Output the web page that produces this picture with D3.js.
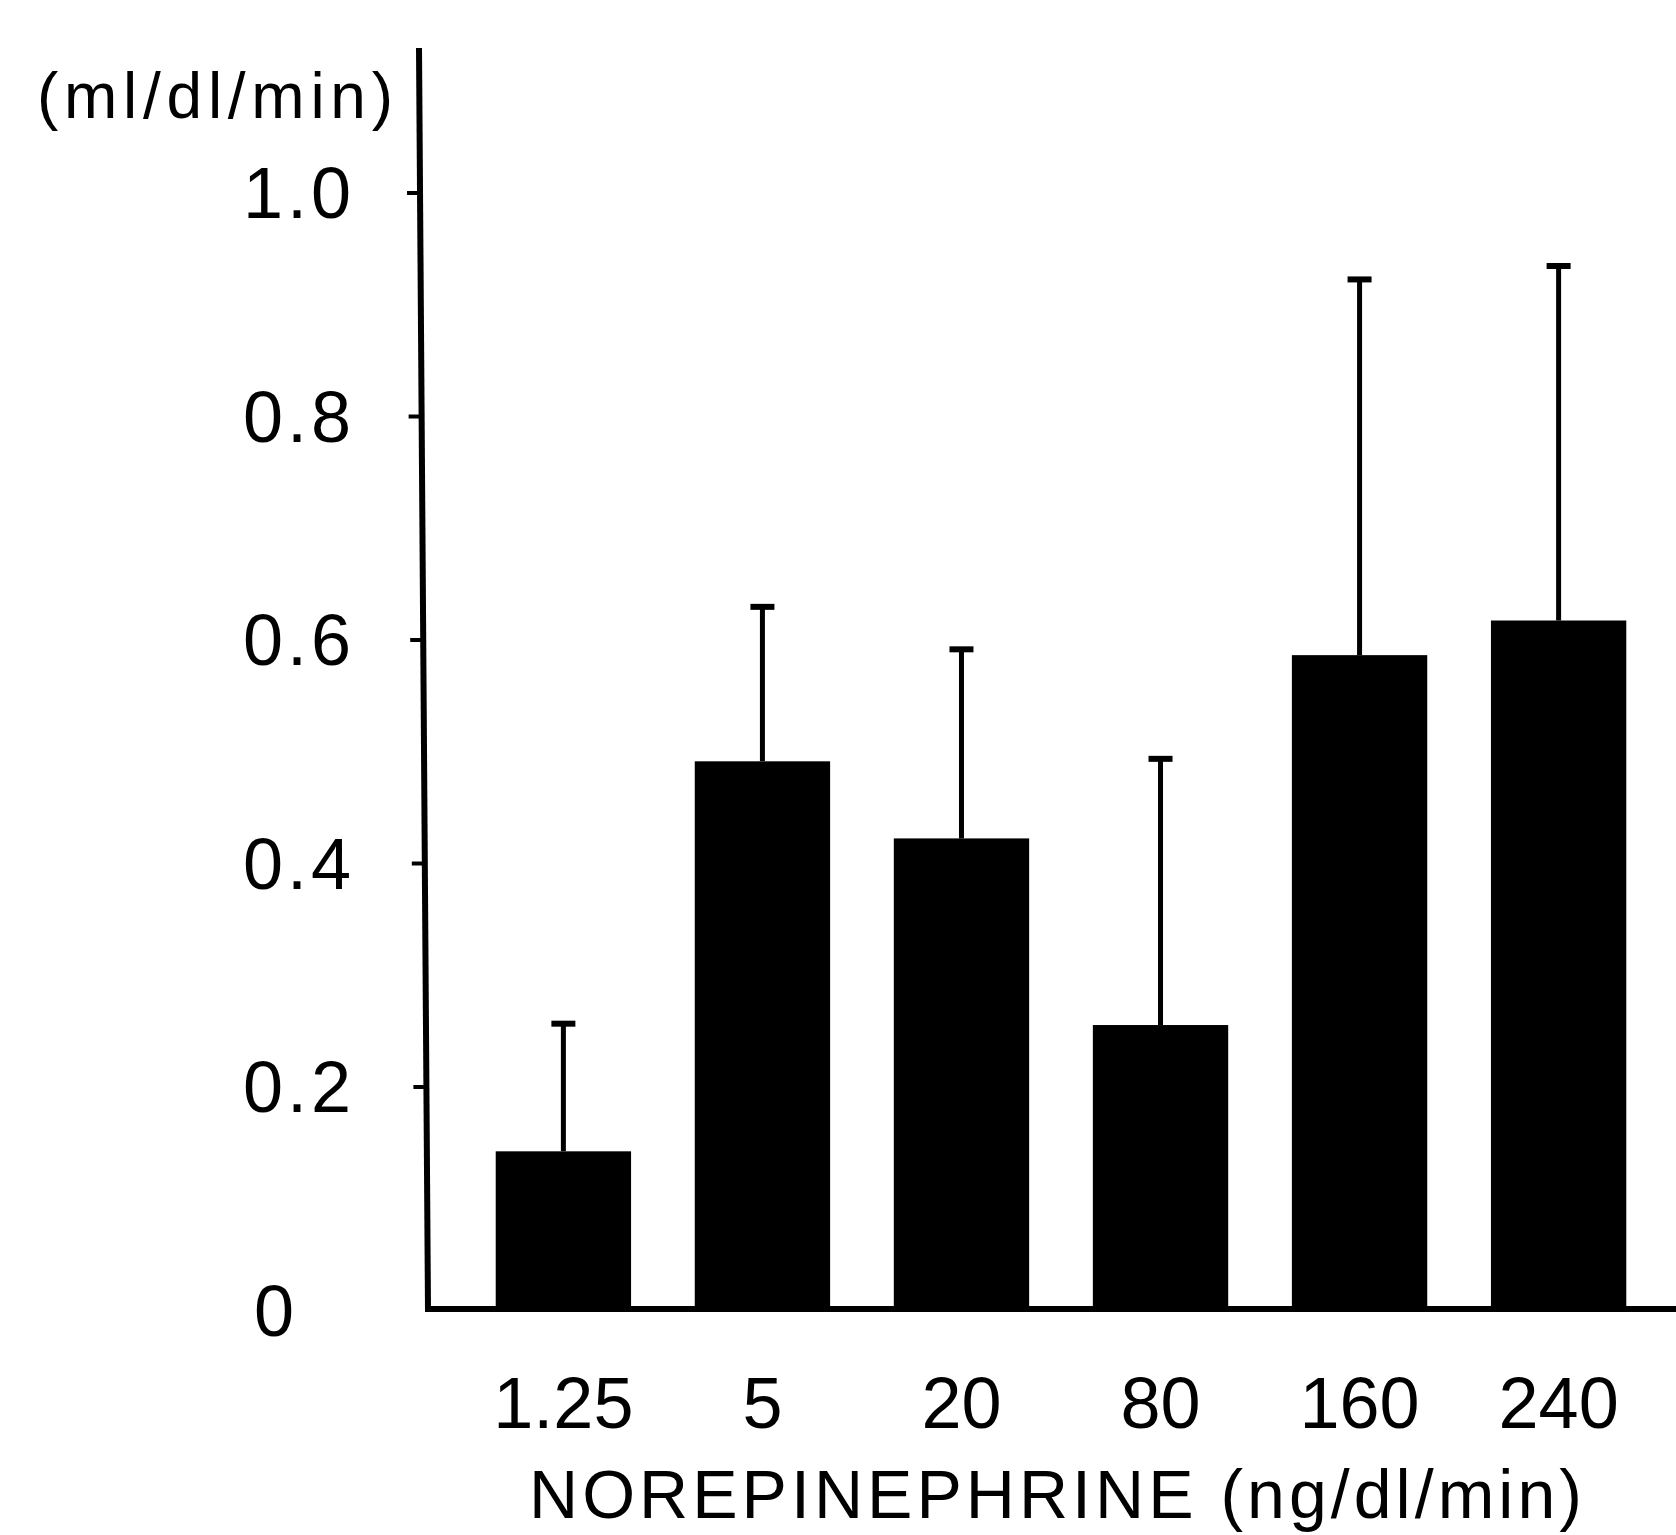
<!DOCTYPE html>
<html>
<head>
<meta charset="utf-8">
<script src="https://cdn.jsdelivr.net/npm/d3@7"></script>
<style>
  html, body { margin: 0; padding: 0; background: #fff; }
  svg { display: block; }
  text { font-family: "Liberation Sans", Arial, Helvetica, sans-serif; fill: #000; }
</style>
</head>
<body>
<svg id="chart" width="1676" height="1535"></svg>
<script>
// ---- data ----
const categories = ["1.25", "5", "20", "80", "160", "240"];
const means = [0.142, 0.491, 0.422, 0.255, 0.586, 0.617];
const upperErrors = [0.258, 0.631, 0.593, 0.495, 0.924, 0.936];
const yTicks = [0, 0.2, 0.4, 0.6, 0.8, 1.0];
const yTickLabels = ["0", "0.2", "0.4", "0.6", "0.8", "1.0"];
const yUnitLabel = "(ml/dl/min)";
const xTitle = "NOREPINEPHRINE (ng/dl/min)";

// ---- layout ----
const svg = d3.select("#chart");
const y0 = 1310;
const y = d3.scaleLinear().domain([0, 1]).range([y0, 192.5]);
const x = d3.scaleBand().domain(categories).range([436, 1686])
  .paddingInner(0.32).paddingOuter(0.3);
const axisX = 428;
const skew = 9 / 1262; // the original axis leans very slightly

// bars
svg.append("g").selectAll("rect")
  .data(categories)
  .join("rect")
  .attr("x", d => x(d))
  .attr("width", x.bandwidth())
  .attr("y", (d, i) => y(means[i]))
  .attr("height", (d, i) => y0 - y(means[i]))
  .attr("fill", "#000");

// error bars
const eg = svg.append("g").attr("stroke", "#000").attr("fill", "none");
categories.forEach((c, i) => {
  const cx = x(c) + x.bandwidth() / 2;
  eg.append("line")
    .attr("x1", cx).attr("x2", cx)
    .attr("y1", y(means[i])).attr("y2", y(upperErrors[i]))
    .attr("stroke-width", 5);
  eg.append("line")
    .attr("x1", cx - 12).attr("x2", cx + 12)
    .attr("y1", y(upperErrors[i]) + 2).attr("y2", y(upperErrors[i]) + 2)
    .attr("stroke-width", 6);
});

// baseline (x axis line)
svg.append("line")
  .attr("x1", axisX - 3).attr("x2", 1676)
  .attr("y1", y0 - 1).attr("y2", y0 - 1)
  .attr("stroke", "#000").attr("stroke-width", 6);

// y axis
const yAxisG = svg.append("g")
  .attr("transform", `translate(${axisX - skew * y0},0) skewX(${Math.atan(skew) * 180 / Math.PI})`);
const yAxis = d3.axisLeft(y)
  .tickValues(yTicks.filter(v => v > 0))
  .tickSize(13)
  .tickFormat("");
yAxisG.call(yAxis);
yAxisG.select(".domain").remove();
yAxisG.selectAll(".tick line").attr("stroke", "#000").attr("stroke-width", 4);
yAxisG.append("line")
  .attr("x1", 0).attr("x2", 0)
  .attr("y1", 48).attr("y2", y0 + 2)
  .attr("stroke", "#000").attr("stroke-width", 6);

// y tick labels
svg.append("g").selectAll("text")
  .data(yTicks)
  .join("text")
  .attr("x", (d, i) => d === 0 ? 298 : 355)
  .attr("y", d => y(d))
  .attr("dy", "0.36em")
  .attr("text-anchor", "end")
  .attr("font-size", 72)
  .attr("letter-spacing", 4)
  .text((d, i) => yTickLabels[i]);

// y unit label
svg.append("text")
  .attr("x", 37).attr("y", 118)
  .attr("font-size", 64)
  .attr("textLength", 356)
  .attr("lengthAdjust", "spacing")
  .text(yUnitLabel);

// x tick labels
const xAxisG = svg.append("g").attr("transform", `translate(0,${y0})`);
xAxisG.call(d3.axisBottom(x).tickSize(0).tickPadding(0));
xAxisG.select(".domain").remove();
xAxisG.selectAll(".tick text")
  .attr("y", 118)
  .attr("dy", 0)
  .attr("font-size", 72)
  .attr("font-family", '"Liberation Sans", Arial, sans-serif')
  .attr("fill", "#000");

// x title
svg.append("text")
  .attr("x", 529).attr("y", 1518)
  .attr("font-size", 68)
  .attr("textLength", 1053)
  .attr("lengthAdjust", "spacing")
  .text(xTitle);
</script>
</body>
</html>
